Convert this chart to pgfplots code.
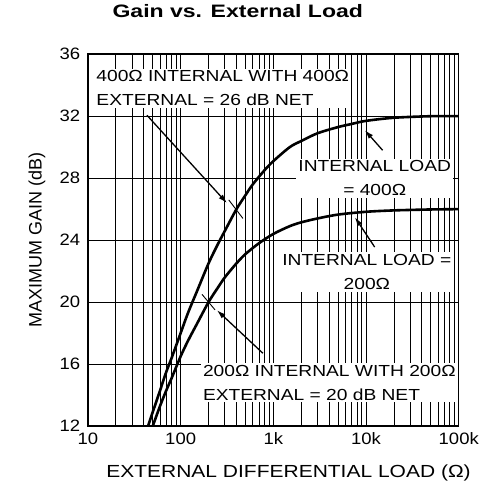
\documentclass[border=0pt]{standalone}
\usepackage{fontspec}
\setmainfont{Liberation Sans}
\newfontfamily\wide[FakeStretch=1.2]{Liberation Sans}
\newfontfamily\widetick[FakeStretch=1.12]{Liberation Sans}
\newfontfamily\widetitle[FakeStretch=1.28]{Liberation Sans}
\usepackage{pgfplots}
\pgfplotsset{compat=1.18}
\usetikzlibrary{arrows.meta}
\pgfplotstableread{
x y
44 11.9
50 12.9
60 14.3
70 15.5
80 16.4
100 18.0
120 19.3
150 20.7
200 22.5
250 23.7
300 24.6
400 26.0
500 26.9
600 27.6
800 28.5
1000 29.1
1500 30.0
2000 30.4
3000 30.9
5000 31.3
7000 31.5
10000 31.7
20000 31.9
50000 32.0
100000 32.0
}\upperdata
\pgfplotstableread{
x y
47 11.6
50 12.0
60 13.3
70 14.3
80 15.1
100 16.5
120 17.5
150 18.6
200 20.0
250 20.9
300 21.6
400 22.5
500 23.1
700 23.8
1000 24.4
1500 24.9
2000 25.15
3000 25.4
5000 25.65
10000 25.83
20000 25.92
50000 25.98
100000 26.0
}\lowerdata
\begin{document}
\fontsize{14}{16}\selectfont
\begin{tikzpicture}[>={Latex[length=9pt,width=5.5pt]}]
\begin{axis}[
  scale only axis, width=371pt, height=372pt,
  xmode=log, xmin=10, xmax=100000, ymin=12, ymax=36,
  xtick={10,100,1000,10000,100000},
  xticklabels={10,100,1k,10k,100k},
  ytick={12,16,20,24,28,32,36},
  grid=both,
  major grid style={black, line width=0.8pt},
  minor grid style={black, line width=0.8pt},
  tick style={draw=none},
  axis line style={line width=1.5pt},
  /pgf/number format/assume math mode=true,
  tick label style={font=\fontsize{16.5}{18}\widetick},
  yticklabel style={xshift=-3pt},
  xticklabel style={yshift=-2pt},
  xlabel={EXTERNAL DIFFERENTIAL LOAD (Ω)},
  ylabel={MAXIMUM GAIN (dB)},
  label style={font=\fontsize{17.5}{19}\wide},
  xlabel style={at={(axis description cs:0.541,0)}, anchor=center, yshift=-47pt},
  ylabel style={at={(axis description cs:0,0.5)}, anchor=center, yshift=51pt, font=\fontsize{18}{19}\selectfont},
  title={Gain vs. External Load},
  title style={at={(axis description cs:0.404,1)}, anchor=center, yshift=37pt, font=\fontsize{18}{20}\widetitle\bfseries},
]
\coordinate (fsw) at (rel axis cs:0,0);
\coordinate (fne) at (rel axis cs:1,1);
\addplot[black, line width=2.6pt, smooth] table {\upperdata};
\addplot[black, line width=2.6pt, smooth] table {\lowerdata};

% text boxes
\begin{scope}[every node/.style={fill=white, inner sep=2pt, font=\fontsize{16}{24}\wide}]
\node[anchor=west, align=left] at (axis cs:11.7,33.8)
  {400Ω INTERNAL WITH 400Ω\\EXTERNAL = 26 dB NET};
\node[align=center] at (axis cs:12400,28.0)
  {INTERNAL LOAD\\= 400Ω};
\node[align=center] at (axis cs:10200,21.95)
  {INTERNAL LOAD =\\200Ω};
\node[anchor=west, align=left] at (axis cs:165,14.8)
  {200Ω INTERNAL WITH 200Ω\\EXTERNAL = 20 dB NET};
\end{scope}

% arrows
\draw[->, line width=1.3pt] (axis cs:43.3,32.06) -- (axis cs:316,26.39);
\draw[->, line width=1.3pt] (axis cs:15100,29.8) -- (axis cs:9700,31.1);
\draw[->, line width=1.3pt] (axis cs:12400,23.55) -- (axis cs:7570,25.48);
\draw[->, line width=1.3pt] (axis cs:771,16.7) -- (axis cs:246,19.48);
% cross marks on curves
\draw[line width=0.9pt] (axis cs:330,26.6) -- (axis cs:470,25.4);
\draw[line width=0.9pt] (axis cs:170,20.5) -- (axis cs:235,19.5);
\end{axis}
\path ([xshift=-88pt,yshift=-67pt]fsw) rectangle ([xshift=30pt,yshift=54pt]fne);
\end{tikzpicture}
\end{document}
